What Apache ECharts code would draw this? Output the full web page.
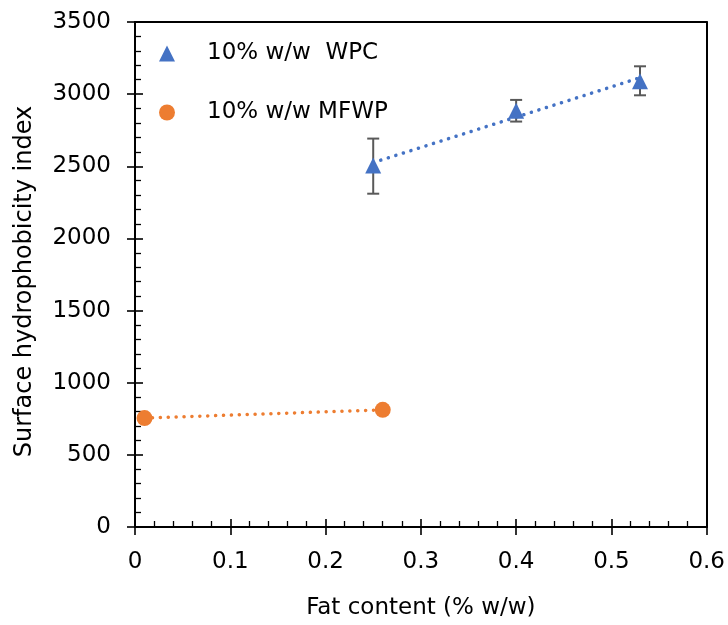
<!DOCTYPE html>
<html>
<head>
<meta charset="utf-8">
<script src="https://cdn.jsdelivr.net/npm/echarts@6/dist/echarts.min.js"></script>
<style>
  html, body { margin: 0; padding: 0; background: #fff; }
  #chart { width: 728px; height: 625px; }
</style>
</head>
<body>
<div id="chart"></div>
<script>
// Fat content (% w/w) for each sample
const wpcFat = [0.25, 0.40, 0.53];
const mfwpFat = [0.01, 0.26];
// Surface hydrophobicity index (mean)
const wpcIndex = [2505, 2885, 3090];
const mfwpIndex = [755, 812];
// Error bar bounds (low, high)
const wpcLow = [2310, 2810, 2992];
const wpcHigh = [2692, 2960, 3193];
const mfwpLow = [740, 798];
const mfwpHigh = [770, 826];
// Axis ticks
const xTicks = [0, 0.1, 0.2, 0.3, 0.4, 0.5, 0.6];
const yTicks = [0, 500, 1000, 1500, 2000, 2500, 3000, 3500];

const BLUE = '#4472C4';
const ORANGE = '#ED7D31';
const FONT = '"DejaVu Sans", sans-serif';
const FS = 23;

// least-squares linear trend across the sample range
function trend(xs, ys) {
  const n = xs.length;
  const mx = xs.reduce((a, b) => a + b, 0) / n;
  const my = ys.reduce((a, b) => a + b, 0) / n;
  let sxy = 0, sxx = 0;
  for (let i = 0; i < n; i++) {
    sxy += (xs[i] - mx) * (ys[i] - my);
    sxx += (xs[i] - mx) * (xs[i] - mx);
  }
  const k = sxy / sxx, b = my - k * mx;
  const x0 = Math.min(...xs), x1 = Math.max(...xs);
  return [[x0, k * x0 + b], [x1, k * x1 + b]];
}

function pairs(xs, ys) { return xs.map((x, i) => [x, ys[i]]); }

function errorSeries(xs, lo, hi) {
  return {
    type: 'custom',
    silent: true,
    z: 3,
    data: xs.map((x, i) => [x, lo[i], hi[i]]),
    renderItem: function (params, api) {
      const top = api.coord([api.value(0), api.value(2)]);
      const bot = api.coord([api.value(0), api.value(1)]);
      const w = 6;
      const style = { stroke: '#595959', lineWidth: 2 };
      return {
        type: 'group',
        children: [
          { type: 'line', shape: { x1: top[0], y1: top[1], x2: bot[0], y2: bot[1] }, style },
          { type: 'line', shape: { x1: top[0] - w, y1: top[1], x2: top[0] + w, y2: top[1] }, style },
          { type: 'line', shape: { x1: bot[0] - w, y1: bot[1], x2: bot[0] + w, y2: bot[1] }, style }
        ]
      };
    }
  };
}

const tickStyle = { color: '#000', width: 1.6 };
const minorStyle = { color: '#000', width: 1.3 };

// frame-only axis (top / right edges of the plot box)
function frameAxis(pos, min, max, interval) {
  return {
    type: 'value', min, max, interval, position: pos,
    axisLine: { show: true, onZero: false, lineStyle: { color: '#000', width: 2 } },
    axisTick: { show: false }, axisLabel: { show: false }, splitLine: { show: false }
  };
}

const chart = echarts.init(document.getElementById('chart'));

chart.setOption({
  animation: false,
  backgroundColor: '#fff',
  textStyle: { fontFamily: FONT },
  grid: { left: 135, right: 19, top: 22, bottom: 98 },
  legend: {
    orient: 'vertical',
    left: 154, top: 37,
    itemGap: 36,
    itemWidth: 16, itemHeight: 16,
    data: ['10% w/w  WPC', '10% w/w MFWP'],
    textStyle: { fontFamily: FONT, fontSize: FS, color: '#000', padding: [0, 0, 0, 27] }
  },
  xAxis: [
    {
      type: 'value', min: 0, max: 0.6, interval: 0.1,
      axisLine: { show: true, lineStyle: { color: '#000', width: 2 } },
      axisTick: { show: true, length: 8, lineStyle: tickStyle },
      axisLabel: { fontSize: FS, color: '#000', margin: 24, fontFamily: FONT,
        formatter: v => { const r = Math.round(v * 10) / 10; return xTicks.indexOf(r) >= 0 ? String(r) : ''; } },
      splitLine: { show: false },
      name: 'Fat content (% w/w)', nameLocation: 'middle', nameGap: 70,
      nameTextStyle: { fontSize: FS, color: '#000', fontFamily: FONT }
    },
    {
      type: 'value', min: 0, max: 0.6, interval: 0.1, position: 'bottom',
      axisLine: { show: false },
      axisTick: { show: true, inside: true, length: 8, lineStyle: tickStyle },
      minorTick: { show: true, splitNumber: 5, length: 6, lineStyle: minorStyle },
      axisLabel: { show: false },
      splitLine: { show: false }
    },
    frameAxis('top', 0, 0.6, 0.1)
  ],
  yAxis: [
    {
      type: 'value', min: 0, max: 3500, interval: 500,
      axisLine: { show: true, lineStyle: { color: '#000', width: 2 } },
      axisTick: { show: true, length: 8, lineStyle: tickStyle },
      axisLabel: { fontSize: FS, color: '#000', margin: 24, fontFamily: FONT,
        formatter: v => yTicks.indexOf(v) >= 0 ? String(v) : '' },
      splitLine: { show: false },
      name: 'Surface hydrophobicity index', nameLocation: 'middle', nameGap: 98,
      nameTextStyle: { fontSize: 24, color: '#000', fontFamily: FONT, padding: [0, 14, 0, 0] }
    },
    {
      type: 'value', min: 0, max: 3500, interval: 500, position: 'left',
      axisLine: { show: false },
      axisTick: { show: true, inside: true, length: 8, lineStyle: tickStyle },
      minorTick: { show: true, splitNumber: 5, length: 6, lineStyle: minorStyle },
      axisLabel: { show: false },
      splitLine: { show: false }
    },
    frameAxis('right', 0, 3500, 500)
  ],
  series: [
    {
      name: 'wpcTrend', type: 'line', data: trend(wpcFat, wpcIndex),
      showSymbol: false, silent: true, z: 2,
      lineStyle: { color: BLUE, width: 3.5, type: [0.1, 7.8], cap: 'round' }
    },
    {
      name: 'mfwpTrend', type: 'line', data: trend(mfwpFat, mfwpIndex),
      showSymbol: false, silent: true, z: 2,
      lineStyle: { color: ORANGE, width: 3.5, type: [0.1, 7.8], cap: 'round' }
    },
    errorSeries(wpcFat, wpcLow, wpcHigh),
    errorSeries(mfwpFat, mfwpLow, mfwpHigh),
    {
      name: '10% w/w  WPC', type: 'scatter', data: pairs(wpcFat, wpcIndex),
      symbol: 'triangle', symbolSize: 16, z: 4,
      itemStyle: { color: BLUE, opacity: 1 }
    },
    {
      name: '10% w/w MFWP', type: 'scatter', data: pairs(mfwpFat, mfwpIndex),
      symbol: 'circle', symbolSize: 16, z: 4,
      itemStyle: { color: ORANGE, opacity: 1 }
    }
  ]
});
</script>
</body>
</html>
